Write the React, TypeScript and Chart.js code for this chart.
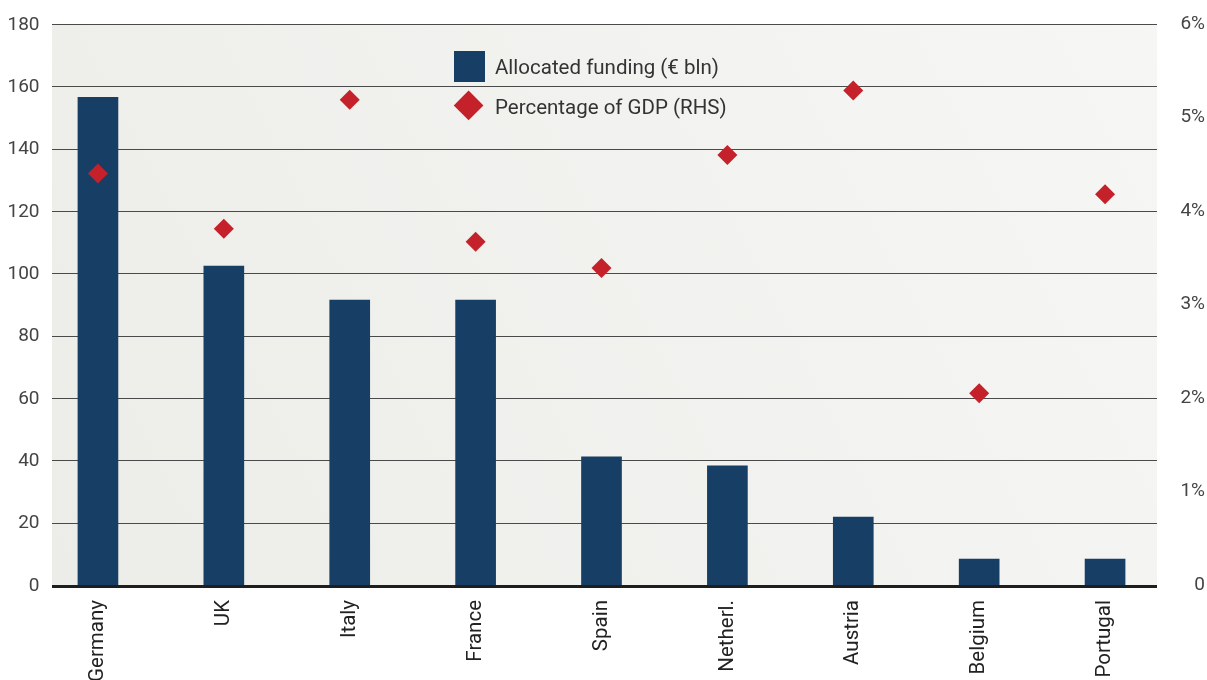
import React, { useEffect, useRef } from 'react';
import { Chart, registerables } from 'chart.js';

Chart.register(...registerables);

// Recovery-fund allocation by country
const countries = ['Germany', 'UK', 'Italy', 'France', 'Spain', 'Netherl.', 'Austria', 'Belgium', 'Portugal'];
const fundingBn = [156.5, 102.3, 91.4, 91.4, 41.1, 38.2, 21.8, 8.3, 8.3];
const gdpSharePct = [4.4, 3.81, 5.19, 3.67, 3.39, 4.6, 5.29, 2.05, 4.18];

// Axis ticks
const fundingTicks = [0, 20, 40, 60, 80, 100, 120, 140, 160, 180];
const gdpTicks = [0, 1, 2, 3, 4, 5, 6];
const gdpTickLabels = ['0', '1%', '2%', '3%', '4%', '5%', '6%'];

const FONT = 'Roboto, "Noto Sans", sans-serif';
const NAVY = '#173e64';
const RED = '#c4212b';

// Shaded plot panel, horizontal rules, heavy baseline and left-hand tick labels
const plotFrame = {
  id: 'plotFrame',
  beforeDatasetsDraw(chart: any) {
    const { ctx, chartArea, scales } = chart;
    const y = scales.y;
    const left = chartArea.left + 17;
    const right = chartArea.right - 11;
    const top = y.getPixelForValue(fundingTicks[fundingTicks.length - 1]);
    const bottom = y.getPixelForValue(0);
    ctx.save();
    const g = ctx.createLinearGradient(left, bottom, right, top);
    g.addColorStop(0, '#ecece8');
    g.addColorStop(1, '#f6f6f5');
    ctx.fillStyle = g;
    ctx.fillRect(left, top, right - left, bottom - top);
    ctx.strokeStyle = '#4a4a4a';
    ctx.lineWidth = 1.2;
    for (const v of fundingTicks) {
      if (v === 0) continue;
      const py = Math.round(y.getPixelForValue(v)) + 0.5;
      ctx.beginPath();
      ctx.moveTo(left, py);
      ctx.lineTo(right, py);
      ctx.stroke();
    }
    ctx.restore();
  },
  afterDatasetsDraw(chart: any) {
    const { ctx, chartArea, scales } = chart;
    const left = chartArea.left + 17;
    const right = chartArea.right - 11;
    const y = scales.y;
    const py = y.getPixelForValue(0) + 1.5;
    ctx.save();
    ctx.strokeStyle = '#1e1e1e';
    ctx.lineWidth = 3;
    ctx.beginPath();
    ctx.moveTo(left, py);
    ctx.lineTo(right, py);
    ctx.stroke();

    ctx.fillStyle = '#444';
    ctx.font = `19px ${FONT}`;
    ctx.textAlign = 'right';
    ctx.textBaseline = 'middle';
    for (const v of fundingTicks) {
      ctx.fillText(String(v), chartArea.left + 4.5, y.getPixelForValue(v) + 1);
    }
    ctx.restore();
  },
};

export default function App() {
  const canvasRef = useRef<HTMLCanvasElement | null>(null);

  useEffect(() => {
    document.body.style.margin = '0';
    const canvas = canvasRef.current;
    if (!canvas) return;
    const chart = new Chart(canvas, {
      type: 'bar',
      data: {
        labels: countries,
        datasets: [
          {
            type: 'line',
            label: 'Percentage of GDP (RHS)',
            data: gdpSharePct,
            yAxisID: 'y1',
            showLine: false,
            pointStyle: 'rectRot',
            pointRadius: 10,
            pointBackgroundColor: RED,
            pointBorderWidth: 0,
            backgroundColor: RED,
            borderColor: RED,
            order: 0,
          } as any,
          {
            type: 'bar',
            label: 'Allocated funding (€ bln)',
            data: fundingBn,
            yAxisID: 'y',
            backgroundColor: NAVY,
            barThickness: 40,
            order: 1,
          },
        ],
      },
      options: {
        responsive: false,
        animation: false,
        layout: { padding: { top: 24, right: 2, left: 0, bottom: 0 } },
        plugins: { legend: { display: false }, tooltip: { enabled: false } },
        scales: {
          x: {
            offset: true,
            grid: { display: false, drawTicks: false },
            border: { display: false },
            ticks: {
              maxRotation: 90,
              minRotation: 90,
              autoSkip: false,
              padding: 15,
              color: '#222',
              font: { family: FONT, size: 20.5 },
            },
            afterFit(scale: any) {
              scale.height = 95;
            },
          },
          y: {
            position: 'left',
            min: 0,
            max: 180,
            grid: { display: false, drawTicks: false },
            border: { display: false },
            afterBuildTicks(scale: any) {
              scale.ticks = fundingTicks.map((v) => ({ value: v }));
            },
            ticks: { display: false },
            afterFit(scale: any) {
              scale.width = 35;
            },
          },
          y1: {
            position: 'right',
            min: 0,
            max: 6,
            grid: { display: false, drawTicks: false },
            border: { display: false },
            afterBuildTicks(scale: any) {
              scale.ticks = gdpTicks.map((v) => ({ value: v }));
            },
            ticks: {
              crossAlign: 'far',
              color: '#444',
              font: { family: FONT, size: 19 },
              callback: (v: any) => gdpTickLabels[gdpTicks.indexOf(Number(v))] ?? '',
            },
            afterFit(scale: any) {
              scale.width = 37;
            },
          },
        },
      },
      plugins: [plotFrame],
    });
    return () => chart.destroy();
  }, []);

  const legendText: React.CSSProperties = {
    position: 'absolute',
    left: 495,
    fontFamily: FONT,
    fontSize: 20.5,
    color: '#333',
    lineHeight: '24px',
    whiteSpace: 'nowrap',
  };

  return (
    <div style={{ position: 'relative', width: 1207, height: 680, background: '#fff', overflow: 'hidden' }}>
      <canvas ref={canvasRef} width={1207} height={680} style={{ display: 'block' }} />
      <div style={{ position: 'absolute', left: 454, top: 51, width: 31, height: 31, background: NAVY }} />
      <div style={{ ...legendText, top: 55 }}>Allocated funding (€ bln)</div>
      <div
        style={{
          position: 'absolute',
          left: 469 - 10.6,
          top: 106 - 10.6,
          width: 21.2,
          height: 21.2,
          background: RED,
          transform: 'rotate(45deg)',
        }}
      />
      <div style={{ ...legendText, top: 95 }}>Percentage of GDP (RHS)</div>
    </div>
  );
}
